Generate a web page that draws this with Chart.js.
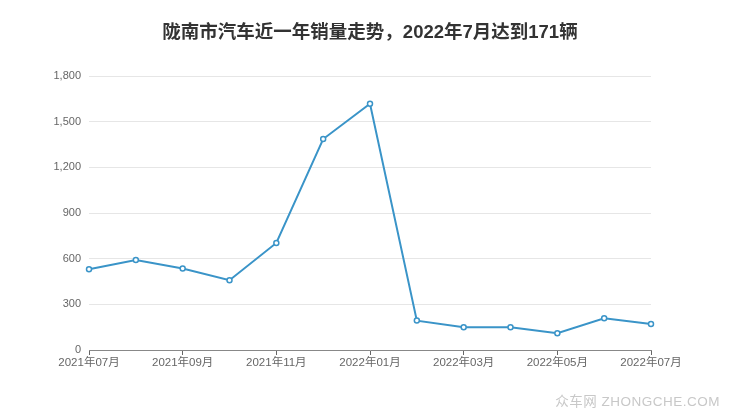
<!DOCTYPE html>
<html>
<head>
<meta charset="utf-8">
<script src="https://cdn.jsdelivr.net/npm/chart.js@4/dist/chart.umd.min.js"></script>
<style>
  html, body { margin: 0; padding: 0; background: #fff; }
  #wrap { position: relative; width: 740px; height: 417px; }
  #title {
    position: absolute; left: 0; top: 20px; width: 740px; text-align: center;
    font: bold 18.5px "Liberation Sans", "Noto Sans CJK SC", sans-serif; color: #333;
    line-height: 24px;
  }
  #mark {
    position: absolute; right: 20px; top: 390px;
    font: 13.5px "Liberation Sans", "Noto Sans CJK SC", sans-serif; color: #c8c8c8;
    letter-spacing: 0.5px;
  }
</style>
</head>
<body>
<div id="wrap">
  <canvas id="salesChart" width="740" height="417"></canvas>
  <div id="title">陇南市汽车近一年销量走势，2022年7月达到171辆</div>
  <div id="mark">众车网 ZHONGCHE.COM</div>
</div>
<script>
// Monthly data
const months = ['2021年07月', '2021年08月', '2021年09月', '2021年10月', '2021年11月', '2021年12月',
                '2022年01月', '2022年02月', '2022年03月', '2022年04月', '2022年05月', '2022年06月', '2022年07月'];
const sales = [531, 591, 536, 458, 703, 1386, 1618, 193, 149, 149, 110, 208, 171];
const yTicks = [0, 300, 600, 900, 1200, 1500, 1800];

const fontFamily = '"Liberation Sans", "Noto Sans CJK SC", sans-serif';

new Chart(document.getElementById('salesChart').getContext('2d'), {
    type: 'line',
    data: {
        labels: months,
        datasets: [{
            data: sales,
            borderColor: '#3a94c8',
            borderWidth: 2,
            pointRadius: 2.5,
            pointBorderWidth: 1.5,
            pointBackgroundColor: '#fff',
            pointBorderColor: '#3a94c8',
            tension: 0
        }]
    },
    options: {
        responsive: false,
        animation: false,
        layout: { padding: { top: 76, right: 89, left: 0, bottom: 0 } },
        plugins: { legend: { display: false }, tooltip: { enabled: false } },
        scales: {
            x: {
                offset: false,
                grid: { drawOnChartArea: false, drawTicks: true, tickLength: 5, color: '#666' },
                border: { display: true, color: '#888' },
                ticks: {
                    autoSkip: false, maxRotation: 0, padding: 1,
                    color: '#666', font: { family: fontFamily, size: 11.5 },
                    callback: (v, i) => i % 2 === 0 ? months[i] : null
                },
                afterFit: s => { s.height = 67; }
            },
            y: {
                min: 0, max: 1800,
                afterBuildTicks: s => { s.ticks = yTicks.map(v => ({ value: v })); },
                grid: { color: '#e6e6e6', drawTicks: false },
                border: { display: false },
                ticks: {
                    padding: 8, color: '#666', font: { family: fontFamily, size: 11 },
                    callback: v => v.toLocaleString('en-US')
                },
                afterFit: s => { s.width = 89; }
            }
        }
    }
});
</script>
</body>
</html>
